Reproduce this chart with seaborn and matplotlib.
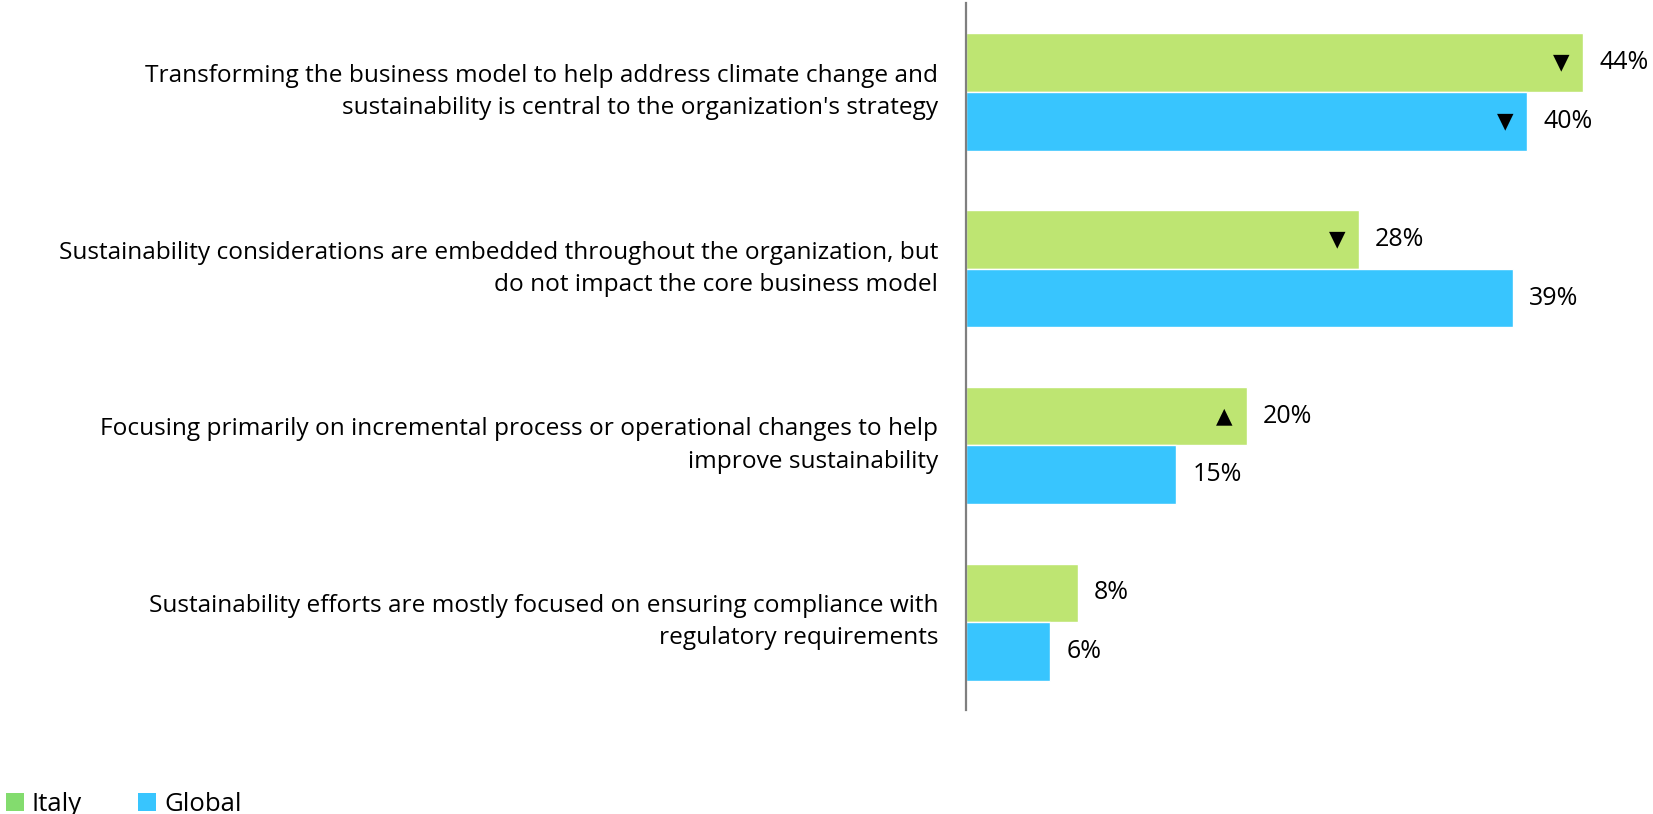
import matplotlib
matplotlib.use("Agg")
import matplotlib.pyplot as plt
import seaborn as sns
import pandas as pd
from matplotlib.patches import Patch

# Survey statements and shares (%)
statements = [
    "Transforming the business model to help address climate change and\nsustainability is central to the organization's strategy",
    "Sustainability considerations are embedded throughout the organization, but\ndo not impact the core business model",
    "Focusing primarily on incremental process or operational changes to help\nimprove sustainability",
    "Sustainability efforts are mostly focused on ensuring compliance with\nregulatory requirements",
]
italy = [44, 28, 20, 8]
global_ = [40, 39, 15, 6]
series_names = ["Italy", "Global"]
# Year-on-year movement markers ("down", "up" or None)
italy_trend = ["down", "down", "up", None]
global_trend = ["down", None, None, None]

bar_colors = {"Italy": "#BEE572", "Global": "#38C5FE"}
legend_colors = {"Italy": "#83DC6E", "Global": "#38C5FE"}

sns.set_theme(style="white")
FONT = ["Open Sans", "DejaVu Sans"]
plt.rcParams["font.family"] = FONT
plt.rcParams["text.color"] = "#000000"

df = pd.DataFrame({
    "statement": statements * 2,
    "share": italy + global_,
    "region": [series_names[0]] * len(italy) + [series_names[1]] * len(global_),
})

fig = plt.figure(figsize=(16.53, 8.14), dpi=100)
ax = fig.add_axes([966 / 1653, 1 - 710 / 814, 1 - 966 / 1653, 707 / 814])

sns.barplot(data=df, y="statement", x="share", hue="region", orient="h",
            palette=bar_colors, width=0.663, saturation=1, dodge=True,
            errorbar=None, ax=ax, legend=False)

ax.set_xlim(0, 687 / 14.03)
ax.set_ylim(3.497, -0.504)
ax.set_xlabel("")
ax.set_ylabel("")
ax.set_xticks([])
ax.tick_params(axis="y", length=0, pad=20, labelsize=17.6, labelcolor="#000000")
for lbl in ax.get_yticklabels():
    lbl.set_linespacing(1.45)
    lbl.set_horizontalalignment("right")
    lbl.set_verticalalignment("center")

for side in ["top", "right", "bottom"]:
    ax.spines[side].set_visible(False)
ax.spines["left"].set_color("#7F7F7F")
ax.spines["left"].set_linewidth(1.6)

symbols = {"down": "\u25BC", "up": "\u25B2"}
for container, vals, trends in zip(ax.containers, [italy, global_], [italy_trend, global_trend]):
    ax.bar_label(container, labels=[f"{v}%" for v in vals], padding=11.5,
                 fontsize=18, color="#000000")
    for rect, t in zip(container, trends):
        if t is None:
            continue
        yc = rect.get_y() + rect.get_height() / 2
        ax.annotate(symbols[t], xy=(rect.get_width(), yc), xytext=(-15.8, 0),
                    textcoords="offset points", ha="center", va="center",
                    fontsize=15.5, color="#000000", family="DejaVu Sans")

handles = [Patch(facecolor=legend_colors[n], edgecolor="none", label=n) for n in series_names]
fig.legend(handles=handles, loc="lower left", bbox_to_anchor=(6 / 1653, -0.004),
           ncol=2, frameon=False, fontsize=18.5, handlelength=0.7, handleheight=0.7,
           handletextpad=0.3, columnspacing=2.2, borderaxespad=0.0, borderpad=0.0)

fig.savefig("out.png", dpi=100)
